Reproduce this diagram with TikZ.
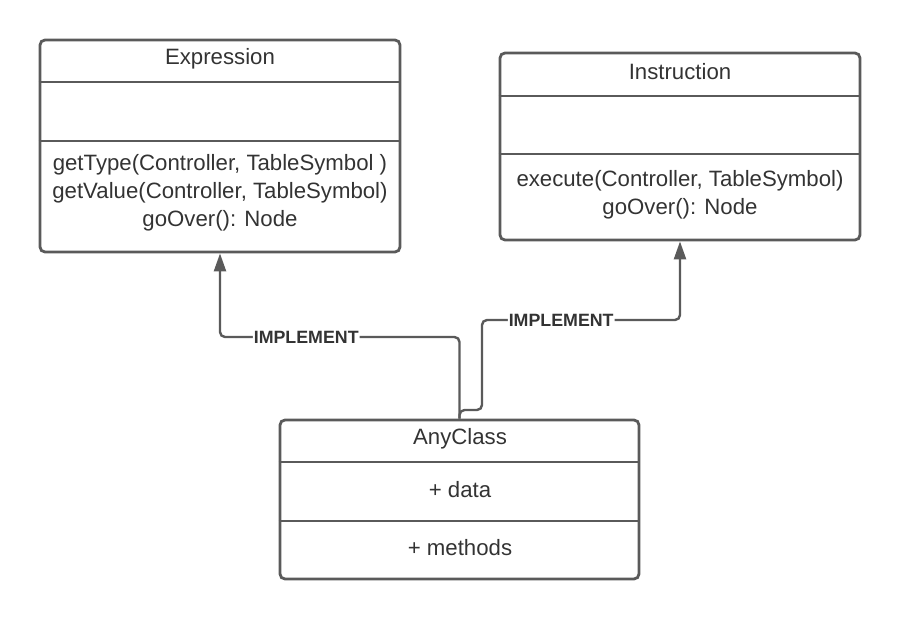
\documentclass[tikz,border=0pt]{standalone}
\usepackage{fontspec}
\setmainfont{Liberation Sans}
\usetikzlibrary{arrows.meta}
\definecolor{linegray}{HTML}{5A5A5A}
\definecolor{textgray}{HTML}{333333}
\tikzset{
  umlbox/.style={draw=linegray, line width=2.8pt, rounded corners=5pt, inner sep=0pt},
  umltext/.style={text=textgray, font=\fontsize{22.2}{27.8}\selectfont, align=center, inner sep=0pt},
  divider/.style={draw=linegray, line width=2.8pt},
  implement/.style={fill=white, text=textgray, font=\bfseries\fontsize{17.8}{20}\selectfont, inner sep=1pt},
  realize/.style={draw=linegray, line width=2.4pt, rounded corners=5pt, -{Triangle[width=12pt,length=18pt]}},
}
\begin{document}
\begin{tikzpicture}[x=1pt,y=-1pt]
\useasboundingbox (0,0) rectangle (900,620);
% class boxes
\node[umlbox, minimum width=360pt, minimum height=212pt] (expr) at (220,146) {};
\node[umlbox, minimum width=360pt, minimum height=187pt] (instr) at (680,146.5) {};
\node[umlbox, minimum width=359pt, minimum height=159pt] (any) at (459.5,499.5) {};
% compartments
\draw[divider] (expr.west |- 0,82) -- (expr.east |- 0,82);
\draw[divider] (expr.west |- 0,141) -- (expr.east |- 0,141);
\draw[divider] (instr.west |- 0,96) -- (instr.east |- 0,96);
\draw[divider] (instr.west |- 0,154) -- (instr.east |- 0,154);
\draw[divider] (any.west |- 0,462) -- (any.east |- 0,462);
\draw[divider] (any.west |- 0,521) -- (any.east |- 0,521);
% texts
\node[umltext] (exprname) at (220,59) {Expression};
\node[umltext] (exprops) at (220,193) {getType(Controller, TableSymbol )\\getValue(Controller, TableSymbol)\\goOver(): Node};
\node[umltext] (instrname) at (680,72) {Instruction};
\node[umltext] (instrops) at (680,195) {execute(Controller, TableSymbol)\\goOver(): Node};
\node[umltext] (anyname) at (460,439) {AnyClass};
\node[umltext] (anydata) at (460,490) {+ data};
\node[umltext] (anyops) at (460,548) {+ methods};
% realizations
\coordinate (lj) at (any.north |- 0,337);
\coordinate (rj) at (any.north |- 0,410);
\coordinate (rk) at (482,320);
\draw[realize] (any.north) -- (lj) -| node[implement, pos=0.32] {IMPLEMENT} (expr.south);
\draw[realize] (any.north) -- (rj) -| (rk) -| node[implement, pos=0.2] {IMPLEMENT} (instr.south);
\end{tikzpicture}
\end{document}
